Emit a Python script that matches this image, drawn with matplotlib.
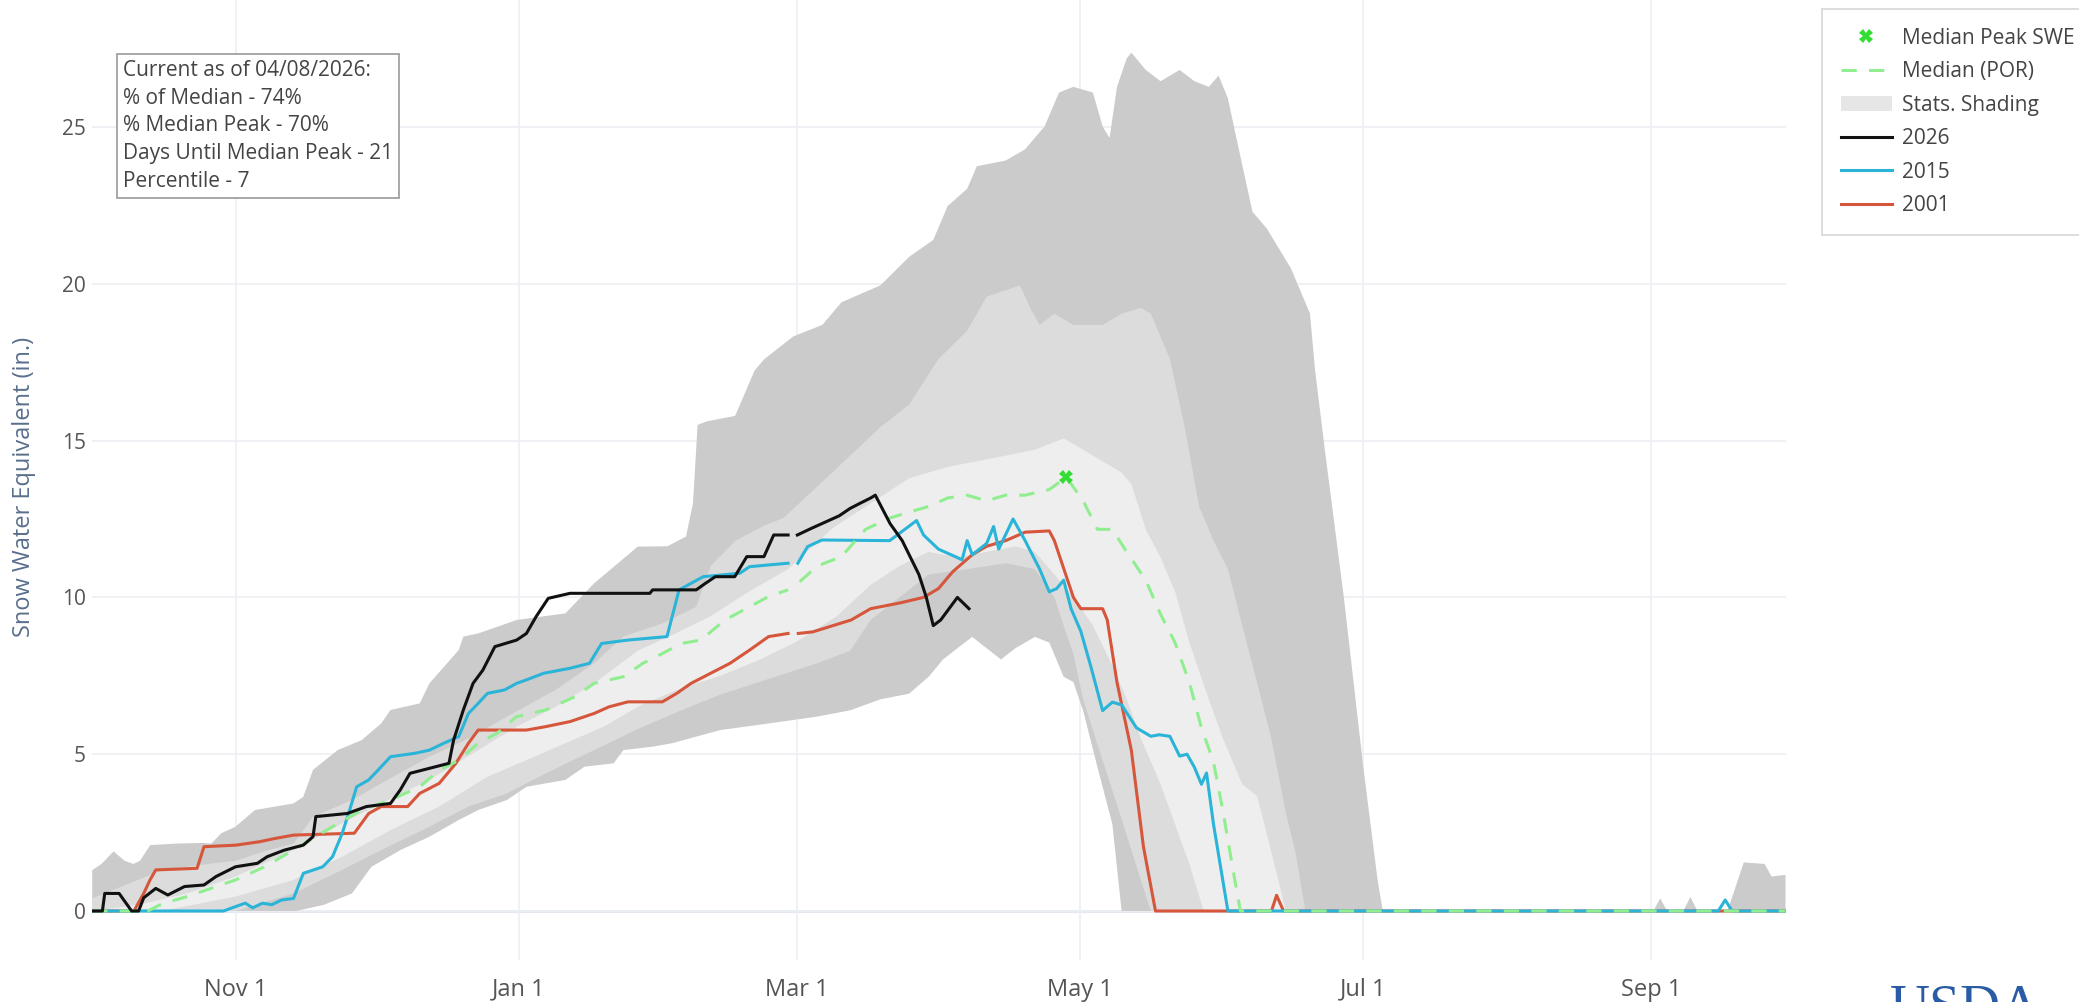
import numpy as np
import matplotlib
matplotlib.use('Agg')
import matplotlib.pyplot as plt
from matplotlib.lines import Line2D
from matplotlib.patches import Patch

plt.rcParams['font.family'] = ['Open Sans', 'DejaVu Sans']

# ---------------- data (day of water year, leap-year axis: Oct 1 = 0) ----------------
tick_days = [31, 92, 152, 213, 274, 336]
tick_labels = ['Nov 1', 'Jan 1', 'Mar 1', 'May 1', 'Jul 1', 'Sep 1']

max_days = [0, 2, 4.6, 7, 8.9, 10.3, 12.5, 18, 24, 25.7, 27.8, 30.9, 35.1, 43.4, 45.5, 47.6, 52.9,
            58.1, 62.3, 64.3, 70.6, 72.7, 79, 80, 83.2, 89.4, 91.5, 102, 108.2, 117.6, 124, 128,
            129.5, 130.5, 132.4, 138.6, 142.8, 144.9, 151.1, 157.4, 161.5, 169.9, 176.1, 181.3,
            184.4, 188.6, 190.7, 196.9, 201.1, 205.3, 208.4, 211.5, 215.7, 217.8, 219.3, 220.9,
            223, 224, 227.1, 230.3, 234.4, 237.6, 240.7, 242.8, 244.8, 246.9, 250.1, 253.2, 258.4,
            262.5, 263.6, 265.7, 269.8, 274, 277.1, 278.2, 336.5, 338, 339.5, 343, 344.5, 346,
            352.5, 356, 360.5, 362, 365]
max_vals = [1.3, 1.5, 1.9, 1.6, 1.5, 1.6, 2.1, 2.15, 2.17, 2.15, 2.48, 2.69, 3.22, 3.43, 3.64, 4.5,
            5.13, 5.45, 5.98, 6.41, 6.62, 7.26, 8.32, 8.75, 8.85, 9.17, 9.28, 9.49, 10.45, 11.62,
            11.63, 11.94, 13.0, 15.5, 15.61, 15.79, 17.24, 17.6, 18.32, 18.69, 19.41, 19.95, 20.86,
            21.4, 22.48, 23.03, 23.75, 23.93, 24.29, 25.02, 26.1, 26.28, 26.1, 25.02, 24.65, 26.28,
            27.19, 27.37, 26.82, 26.46, 26.82, 26.46, 26.28, 26.64, 25.92, 24.47, 22.3, 21.76,
            20.49, 19.05, 17.24, 14.71, 10.0, 4.58, 0.96, 0, 0, 0.4, 0, 0, 0.45, 0, 0, 1.55, 1.5,
            1.1, 1.15]

min_days = [0, 44, 50, 56, 60.2, 66.4, 72.7, 79, 83.2, 89.4, 93.6, 97.8, 102, 106.1, 112.4, 114.5,
            120.8, 125, 135.4, 145.8, 156.3, 163.4, 169.9, 176.1, 180.3, 183.4, 186.5, 189.7,
            192.8, 195.9, 199, 203.2, 206.3, 209.4, 211.5, 213.6, 216.7, 219.9, 221.9, 365]
min_vals = [0, 0, 0.2, 0.56, 1.41, 1.94, 2.37, 2.9, 3.22, 3.54, 3.96, 4.07, 4.18, 4.6, 4.71, 5.13,
            5.24, 5.35, 5.77, 5.98, 6.2, 6.4, 6.75, 6.93, 7.47, 8.02, 8.38, 8.74, 8.38, 8.02, 8.38,
            8.74, 8.56, 7.47, 7.3, 6.39, 4.58, 2.77, 0, 0]

p90_days = [0, 5, 10, 15, 20, 25, 30.9, 37, 43.4, 47.6, 56, 62.3, 72.7, 79, 83.2, 89.4, 99.9, 108.2,
            114.5, 122.9, 130.2, 133.3, 138.6, 145, 149, 159.5, 169.9, 176.1, 182.4, 188.6, 192.8,
            200, 202.2, 204.2, 207.4, 211.5, 217.8, 221.9, 226.1, 228.2, 232.3, 235.5, 238.6,
            241.7, 244.8, 247.9, 251.1, 254.2, 257.3, 259.4, 261.5]
p90_vals = [0.4, 0.7, 1.0, 1.3, 1.4, 1.5, 1.6, 1.9, 2.15, 3.0, 3.54, 4.07, 4.92, 5.35, 5.67, 6.2,
            7.05, 7.9, 8.75, 9.17, 9.7, 11.0, 11.8, 12.3, 12.53, 13.98, 15.43, 16.15, 17.6, 18.5,
            19.59, 19.95, 19.23, 18.69, 19.05, 18.69, 18.69, 19.05, 19.23, 19.05, 17.6, 15.43,
            12.9, 11.81, 10.91, 9.1, 7.29, 5.48, 3.13, 1.86, 0]

p10_days = [0, 30.9, 43.4, 53.9, 62.3, 72.7, 81.1, 89.4, 97.8, 108.2, 117.6, 127, 135.4, 145.8,
            156.3, 163.4, 167.8, 174, 180.3, 188.6, 196.9, 203.2, 207.4, 209.4, 211.5, 213.6,
            216.7, 219.9, 223, 226.1, 228.2]
p10_vals = [0, 0, 0.56, 1.31, 1.94, 2.69, 3.33, 3.75, 4.39, 5.13, 5.8, 6.4, 6.9, 7.4, 7.9, 8.3,
            9.28, 10.0, 10.73, 10.9, 11.09, 10.9, 10.0, 9.1, 8.2, 6.75, 5.3, 3.85, 2.41, 0.96, 0]

p70_days = [0, 10, 20.5, 30.9, 43.4, 53.9, 62.3, 72.7, 83.2, 91.5, 99.9, 108.2, 117.6, 125, 133.3,
            141.7, 150, 159.5, 167.8, 176.1, 184.4, 190.7, 196.9, 203.2, 209.4, 213.6, 217.8,
            221.9, 224, 227.1, 230.3, 233.4, 236.5, 240.7, 243.8, 247.9, 251.1, 254.2, 257.3]
p70_vals = [0, 0.2, 0.56, 1.1, 1.94, 2.8, 3.43, 4.18, 5.13, 5.88, 6.51, 7.26, 8.3, 8.8, 9.4, 10.2,
            10.9, 12.2, 13.0, 13.8, 14.16, 14.34, 14.52, 14.71, 15.07, 14.71, 14.34, 13.98, 13.62,
            12.17, 11.27, 10.19, 8.56, 6.75, 5.48, 4.04, 3.67, 1.86, 0]

p30_days = [0, 15, 30.9, 43.4, 53.9, 64.3, 74.8, 85.2, 93.6, 102, 110.3, 118.7, 127, 135.4, 143.7,
            152, 160.5, 167.8, 174, 180.3, 186.5, 192.8, 199, 203.2, 207.4, 211.5, 215.7, 219.9,
            223, 226.1, 230.3, 233.4, 236.5, 239.6]
p30_vals = [0, 0, 0.46, 0.99, 1.73, 2.58, 3.33, 4.28, 4.81, 5.35, 5.88, 6.6, 7.1, 7.5, 8.0, 8.6,
            9.4, 10.4, 11.0, 11.45, 11.27, 11.45, 11.63, 11.45, 10.73, 10.0, 9.1, 7.83, 6.75,
            5.48, 4.04, 2.77, 1.5, 0]

median_days = [0, 12, 15.2, 20.5, 24.6, 30.9, 37, 43.4, 51.8, 58.1, 64.3, 70.6, 74.8, 79, 83.2,
               87.3, 91.5, 97.8, 104, 108.2, 114.5, 118.7, 122.9, 127, 131.2, 136.4, 141.7, 145.8,
               150, 151, 152.5, 156.3, 161.5, 166.7, 171.9, 176.1, 180.3, 184.4, 188.6, 192.8,
               196.9, 201.1, 206.3, 210, 213.6, 216.7, 219.9, 223, 227.1, 230.3, 233.4, 236.5,
               239.1, 241.7, 243.8, 245.9, 247.5, 365]
median_vals = [0, 0, 0.24, 0.46, 0.67, 0.99, 1.4, 1.94, 2.69, 3.22, 3.54, 3.96, 4.49, 4.81, 5.35,
               5.67, 6.2, 6.41, 6.83, 7.26, 7.47, 7.9, 8.21, 8.53, 8.64, 9.28, 9.7, 10.03, 10.24,
               np.nan, 10.5, 11.0, 11.3, 12.17, 12.53, 12.72, 12.9, 13.17, 13.26, 13.08, 13.26,
               13.26, 13.44, 13.83, 13.08, 12.17, 12.17, 11.45, 10.55, 9.46, 8.56, 7.29, 5.84,
               4.76, 3.13, 1.32, 0, 0]

peak_day = [210]
peak_val = [13.83]

y2026_days = [0, 2.2, 2.7, 5.8, 8.5, 10, 11.1, 13.7, 16.3, 19.9, 24.1, 26.7, 30.9, 35.6, 37.7, 41.4,
              45.5, 47.6, 48.2, 55, 59.1, 64.3, 66.4, 68.5, 76.9, 77.9, 80, 82.1, 84.2, 86.8, 91.5,
              93.6, 95.7, 98.3, 103, 120.2, 120.8, 130.2, 132.2, 134.3, 138.5, 141.1, 144.8, 146.9,
              150, 151, 152, 155, 158, 161, 163.4, 165.5, 167.8, 168.8, 172, 174.6, 178.2, 179.8,
              181.3, 182.9, 186.5, 189]
y2026_vals = [0, 0, 0.56, 0.56, 0, 0, 0.42, 0.72, 0.51, 0.78, 0.83, 1.1, 1.41, 1.52, 1.73, 1.94,
              2.1, 2.37, 3.01, 3.11, 3.33, 3.43, 3.86, 4.39, 4.71, 5.45, 6.41, 7.26, 7.68, 8.43,
              8.64, 8.85, 9.39, 9.97, 10.13, 10.13, 10.24, 10.24, 10.45, 10.66, 10.66, 11.3, 11.3,
              11.99, 11.99, np.nan, 11.99, 12.2, 12.4, 12.6, 12.84, 13.0, 13.17, 13.26, 12.35,
              11.81, 10.73, 10.0, 9.1, 9.28, 10.0, 9.64]

y2015_days = [0, 28.3, 30.9, 33, 34.6, 36.7, 38.7, 40.8, 43.4, 45.5, 49.7, 51.8, 53.9, 55.5, 57,
              59.6, 62.3, 64.3, 69.6, 72.7, 75.8, 79, 81.1, 83.2, 85.2, 88.9, 91.5, 93.6, 97.3,
              103, 107.2, 109.8, 115.5, 123.9, 126.5, 131.7, 139.6, 141.7, 150, 151, 152.1, 154.2,
              157.3, 171.9, 177.7, 179.2, 182.4, 186.5, 187.5, 188.6, 189.7, 192.8, 194.3, 195.4,
              198.5, 201.1, 204.2, 206.3, 207.9, 209.4, 211, 213.1, 215.2, 217.8, 219.9, 221.9,
              225.1, 228.2, 230, 232.3, 234.4, 236, 237.6, 239.1, 240.2, 241.7, 244.8, 350.5, 352,
              353.5, 365]
y2015_vals = [0, 0, 0.14, 0.25, 0.1, 0.25, 0.2, 0.35, 0.4, 1.2, 1.41, 1.73, 2.48, 3.22, 3.96, 4.18,
              4.6, 4.92, 5.03, 5.13, 5.35, 5.56, 6.3, 6.62, 6.94, 7.05, 7.26, 7.37, 7.58, 7.74, 7.9,
              8.53, 8.64, 8.75, 10.24, 10.66, 10.77, 10.98, 11.09, np.nan, 11.09, 11.62, 11.83,
              11.81, 12.45, 11.99, 11.54, 11.27, 11.2, 11.81, 11.36, 11.72, 12.26, 11.54, 12.5,
              11.81, 10.91, 10.18, 10.28, 10.55, 9.64, 8.92, 7.83, 6.39, 6.66, 6.57, 5.84, 5.57,
              5.62, 5.57, 4.94, 5.0, 4.58, 4.04, 4.4, 2.77, 0, 0, 0.35, 0, 0]

y2001_days = [0, 9, 11.1, 12.5, 13.7, 22.6, 24.1, 31, 36.1, 39.3, 43.4, 56.5, 59.6, 62.3, 68, 70.6,
              74.8, 78.4, 81.1, 83.2, 93.6, 97.8, 103, 108.2, 111.4, 115.5, 122.9, 126, 129.1,
              133.3, 137.5, 141.7, 145.8, 150, 151, 152.2, 155.3, 163.6, 167.8, 174, 179.2, 182.4,
              185.5, 189.7, 192.8, 196.9, 201.1, 206.3, 207.4, 211.5, 213.1, 217.8, 218.8, 220.9,
              224, 226.6, 229.2, 254.2, 255.3, 256.8, 365]
y2001_vals = [0, 0, 0.56, 1.0, 1.31, 1.36, 2.05, 2.1, 2.21, 2.31, 2.42, 2.48, 3.11, 3.33, 3.33,
              3.75, 4.07, 4.71, 5.35, 5.77, 5.77, 5.88, 6.04, 6.3, 6.51, 6.67, 6.67, 6.94, 7.26,
              7.58, 7.9, 8.32, 8.75, 8.85, np.nan, 8.85, 8.9, 9.28, 9.64, 9.82, 10.0, 10.28, 10.82,
              11.36, 11.63, 11.81, 12.08, 12.12, 11.81, 10.0, 9.64, 9.64, 9.28, 7.29, 5.12, 2.05,
              0, 0, 0.5, 0, 0]

annotation_lines = ['Current as of 04/08/2026:', '% of Median - 74%', '% Median Peak - 70%',
                    'Days Until Median Peak - 21', 'Percentile - 7']

# ---------------- figure ----------------
W, H = 2079, 1002
fig = plt.figure(figsize=(W / 100, H / 100), dpi=100)
ax = fig.add_axes([92.2 / W, 1 - 959.6 / H, (1785.5 - 92.2) / W, 959.6 / H])
ax.set_xlim(0, 365)
ax.set_ylim(-1.55, 29.05)


def band(upper_d, upper_v, lower_d, lower_v, color):
    xs = np.concatenate([upper_d, lower_d[::-1]])
    ys = np.concatenate([upper_v, lower_v[::-1]])
    ax.fill(xs, ys, color=color, lw=0, zorder=1)


band(np.array(max_days), np.array(max_vals), np.array(min_days), np.array(min_vals), '#cbcbcb')
band(np.array(p90_days), np.array(p90_vals), np.array(p10_days), np.array(p10_vals), '#dcdcdc')
band(np.array(p70_days), np.array(p70_vals), np.array(p30_days), np.array(p30_vals), '#eeeeee')

ax.axhline(0, color='#e1e5ec', lw=2, zorder=0.5)

c_med = '#90ee90'
c26, c15, c01 = '#111111', '#2ab4d8', '#d6563c'
ax.plot(y2001_days, y2001_vals, color=c01, lw=2.2, zorder=3)
ax.plot(y2015_days, y2015_vals, color=c15, lw=2.2, zorder=3.1)
ax.plot(median_days, median_vals, color=c_med, lw=2.2, ls=(0, (5, 4)), zorder=3.2)
ax.plot(y2026_days, y2026_vals, color=c26, lw=2.2, zorder=3.3)
ax.plot(peak_day, peak_val, ls='none', marker='X', color='#33dd33', markersize=10,
        markeredgewidth=0, zorder=4)

ax.set_xticks(tick_days)
ax.set_xticklabels(tick_labels)
ax.set_yticks([0, 5, 10, 15, 20, 25])
ax.tick_params(length=0, colors='#555555')
ax.tick_params(axis='x', pad=13, labelsize=17)
ax.tick_params(axis='y', pad=4.5, labelsize=15)
ax.grid(True, color='#eceff4', lw=1.2)
ax.set_axisbelow(True)
for s in ax.spines.values():
    s.set_visible(False)

fig.text(24 / W, 1 - 487 / H, 'Snow Water Equivalent (in.)', rotation=90, ha='center',
         va='center', fontsize=17, color='#5a6f8c')

fig.text(123 / W, 1 - 60 / H, '\n'.join(annotation_lines), ha='left', va='top', fontsize=15,
         linespacing=1.42, color='#444444',
         bbox=dict(boxstyle='square,pad=0.3', fc='white', ec='#999999', lw=1.2), zorder=10)

handles = [
    Line2D([], [], ls='none', marker='X', color='#33dd33', markersize=10, markeredgewidth=0),
    Line2D([], [], color=c_med, lw=2.2, ls=(0, (5, 4))),
    Patch(facecolor='#e6e6e6', edgecolor='none'),
    Line2D([], [], color=c26, lw=2.2),
    Line2D([], [], color=c15, lw=2.2),
    Line2D([], [], color=c01, lw=2.2),
]
labels = ['Median Peak SWE', 'Median (POR)', 'Stats. Shading', '2026', '2015', '2001']
leg = fig.legend(handles, labels, loc='upper left', bbox_to_anchor=(1822 / W, 1 - 9 / H),
                 fontsize=15, frameon=True, fancybox=False, edgecolor='#cccccc',
                 handlelength=2.45, handletextpad=0.5, labelspacing=0.6, borderpad=0.9,
                 borderaxespad=0)
leg.get_frame().set_linewidth(1.2)
for t in leg.get_texts():
    t.set_color('#444444')

fig.text(1890 / W, 1 - 984 / H, 'USDA', ha='left', va='top', fontsize=40,
         family='Liberation Serif', color='#2a5ca6')

fig.savefig('out.png', dpi=100)
